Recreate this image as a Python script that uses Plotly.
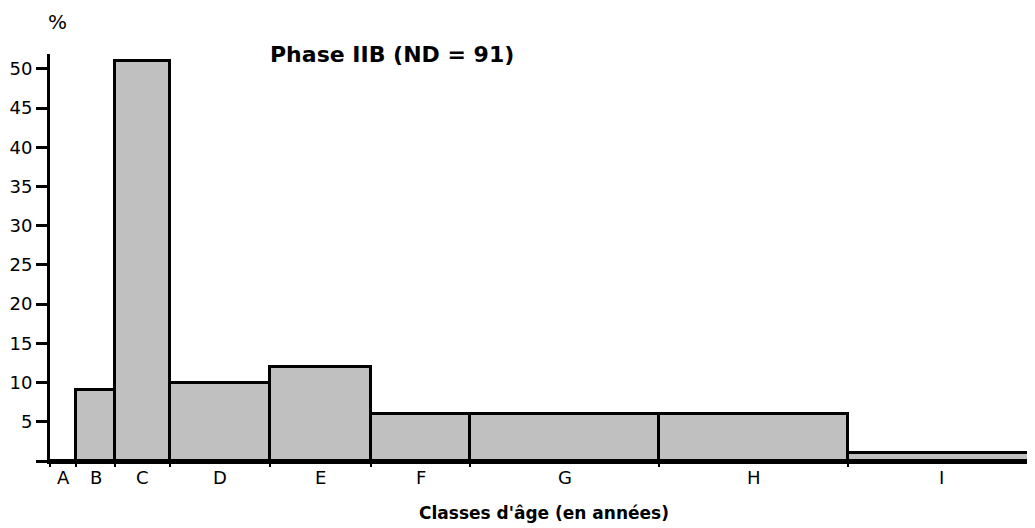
import plotly.graph_objects as go

# classes d'âge et pourcentages
classes = ["A", "B", "C", "D", "E", "F", "G", "H", "I"]
edges = [0, 26, 65, 120, 220, 321, 420, 609, 798, 985]
values = [0, 9, 51, 10, 12, 6, 6, 6, 1]
y_ticks = [0, 5, 10, 15, 20, 25, 30, 35, 40, 45, 50]

mids = [(edges[i] + edges[i + 1]) / 2 for i in range(len(classes))]
widths = [edges[i + 1] - edges[i] for i in range(len(classes))]

font = "DejaVu Sans, Arial, sans-serif"
H = 407  # hauteur de la zone de tracé

fig = go.Figure(go.Bar(
    x=mids, y=values, width=widths,
    marker=dict(color="#c0c0c0", line=dict(color="black", width=3)),
    showlegend=False, hoverinfo="skip"))

# la page html ajoute 8px de marge autour du graphique
fig.update_layout(
    width=1027, height=520,
    margin=dict(l=42, r=0, t=46, b=67, autoexpand=False),
    plot_bgcolor="white", paper_bgcolor="white",
    font=dict(family=font, size=18, color="black"),
    bargap=0)

fig.update_xaxes(
    range=[edges[0], edges[-1]], automargin=False,
    showline=True, linecolor="black", linewidth=3,
    tickmode="array", tickvals=edges, ticktext=[""] * len(edges),
    ticks="outside", ticklen=3, tickwidth=2, tickcolor="black",
    showgrid=False, zeroline=False)

fig.update_yaxes(
    range=[0, 51.9], automargin=False,
    showline=True, linecolor="black", linewidth=3,
    tickmode="array", tickvals=y_ticks,
    ticktext=[""] + [str(v) for v in y_ticks[1:]],
    ticks="outside", ticklen=11, tickwidth=3, tickcolor="black",
    tickfont=dict(size=18),
    showgrid=False, zeroline=False)

for c, m in zip(classes, mids):
    fig.add_annotation(x=m, y=-16 / H, xref="x", yref="paper", text=c,
                       showarrow=False, yanchor="middle",
                       font=dict(size=18))

fig.add_annotation(x=7 / 985, y=439 / H, xref="paper", yref="paper",
                   text="%", showarrow=False, xanchor="center",
                   yanchor="middle", font=dict(size=20))

fig.add_annotation(x=218 / 985, y=406 / H, xref="paper", yref="paper",
                   text="<b>Phase IIB (ND = 91)</b>", showarrow=False,
                   xanchor="left", yanchor="middle", font=dict(size=22))

fig.add_annotation(x=493.5 / 985, y=-52 / H, xref="paper", yref="paper",
                   text="<b>Classes d'âge (en années)</b>", showarrow=False,
                   yanchor="middle", font=dict(size=17))

fig.write_html("out.html")
